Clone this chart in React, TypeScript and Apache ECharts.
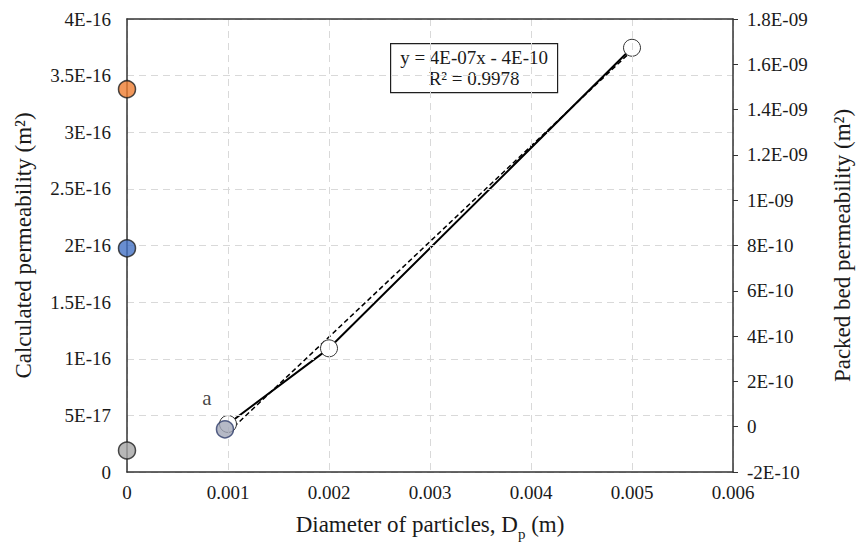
import React, { useEffect, useRef } from "react";
import * as echarts from "echarts";

// Calculated permeability (left axis), plotted at D = 0
const calcX = [0, 0, 0];
const calcY = [3.38e-16, 1.975e-16, 1.9e-17];
const calcColors = ["#ED7D31", "#4472C4", "#A5A5A5"];

// Sample "a" (left axis)
const sampleAX = [0.00097];
const sampleAY = [3.77e-17];
const sampleALabel = "a";

// Packed bed permeability (right axis)
const packedX = [0.001, 0.002, 0.005];
const packedY = [1.2e-11, 3.46e-10, 1.673e-9];

const equationLines = ["y = 4E-07x - 4E-10", "R² = 0.9978"];

const FONT = "'Liberation Serif', 'Times New Roman', serif";
const TXT = "#1a1a1a";

function sciLabel(v: number): string {
  if (Math.abs(v) < 1e-30) return "0";
  const clean = Number(v.toPrecision(3));
  const s = clean.toExponential();
  const [m, e] = s.split("e");
  const en = parseInt(e, 10);
  const sign = en < 0 ? "-" : "+";
  const ea = Math.abs(en);
  return m + "E" + sign + (ea < 10 ? "0" + ea : String(ea));
}

function fit(xs: number[], ys: number[]) {
  const n = xs.length;
  const mx = xs.reduce((a, b) => a + b, 0) / n;
  const my = ys.reduce((a, b) => a + b, 0) / n;
  let sxy = 0;
  let sxx = 0;
  for (let i = 0; i < n; i++) {
    sxy += (xs[i] - mx) * (ys[i] - my);
    sxx += (xs[i] - mx) * (xs[i] - mx);
  }
  const k = sxy / sxx;
  return { k, b: my - k * mx };
}

export default function App() {
  const ref = useRef<HTMLDivElement>(null);
  useEffect(() => {
    if (!ref.current) return;
    const chart = echarts.init(ref.current, undefined, { renderer: "svg" });
    const { k, b } = fit(packedX, packedY);
    const xMin = Math.min(...packedX);
    const xMax = Math.max(...packedX);
    const trend = [
      [xMin, k * xMin + b],
      [xMax, k * xMax + b],
    ];
    const axisLineStyle = { color: "#333333", width: 1.5 };
    const gridLineStyle = { color: "#d9d9d9", type: [7, 5], width: 1 };

    chart.setOption({
      animation: false,
      backgroundColor: "#ffffff",
      textStyle: { fontFamily: FONT },
      grid: {
        left: 127,
        right: 127,
        top: 19,
        bottom: 82,
        show: false,
        containLabel: false,
      },
      xAxis: [
        {
          type: "value",
          position: "bottom",
          min: 0,
          max: 0.006,
          interval: 0.001,
          name: "{t|Diameter of particles, D}{s|p}{t| (m)}",
          nameLocation: "middle",
          nameGap: 38,
          nameTextStyle: {
            rich: {
              t: { fontFamily: FONT, fontSize: 23, color: TXT, lineHeight: 26, verticalAlign: "bottom" },
              s: { fontFamily: FONT, fontSize: 15, color: TXT, lineHeight: 26, verticalAlign: "bottom", padding: [0, 0, -5, 0] },
            },
          },
          axisLine: { show: true, onZero: false, lineStyle: axisLineStyle },
          axisTick: { show: false },
          axisLabel: {
            margin: 11,
            fontFamily: FONT,
            fontSize: 19,
            color: TXT,
            formatter: (v: number) => String(Number(v.toPrecision(3))),
          },
          splitLine: { show: true, lineStyle: gridLineStyle },
          z: 5,
        },
        {
          type: "value",
          position: "top",
          min: 0,
          max: 0.006,
          interval: 0.001,
          axisLine: { show: true, onZero: false, lineStyle: axisLineStyle },
          axisTick: { show: false },
          axisLabel: { show: false },
          splitLine: { show: false },
          z: 5,
        },
      ],
      yAxis: [
        {
          type: "value",
          position: "left",
          min: 0,
          max: 4e-16,
          interval: 5e-17,
          name: "Calculated permeability (m²)",
          nameLocation: "middle",
          nameRotate: 90,
          nameGap: 92,
          nameTextStyle: { fontFamily: FONT, fontSize: 23, color: TXT },
          axisLine: { show: true, onZero: false, lineStyle: axisLineStyle },
          axisTick: { show: false },
          axisLabel: { margin: 16, fontFamily: FONT, fontSize: 19, color: TXT, formatter: sciLabel },
          splitLine: { show: true, lineStyle: gridLineStyle },
          z: 5,
        },
        {
          type: "value",
          position: "right",
          min: -2e-10,
          max: 1.8e-9,
          interval: 2e-10,
          name: "Packed bed permeability (m²)",
          nameLocation: "middle",
          nameRotate: 90,
          nameGap: 98,
          nameTextStyle: { fontFamily: FONT, fontSize: 23, color: TXT },
          axisLine: { show: true, onZero: false, lineStyle: axisLineStyle },
          axisTick: { show: true, inside: false, length: 5, lineStyle: { color: "#333333", width: 1 } },
          axisLabel: { margin: 14, fontFamily: FONT, fontSize: 19, color: TXT, formatter: sciLabel },
          splitLine: { show: false },
          z: 5,
        },
      ],
      series: [
        {
          name: "Linear fit",
          type: "line",
          yAxisIndex: 1,
          data: trend,
          showSymbol: false,
          symbol: "none",
          lineStyle: { color: "#000000", width: 1.5, type: [5, 3] },
          z: 3,
        },
        {
          name: "Packed bed",
          type: "line",
          yAxisIndex: 1,
          data: packedX.map((x, i) => [x, packedY[i]]),
          symbol: "circle",
          symbolSize: 17,
          lineStyle: { color: "#000000", width: 2 },
          itemStyle: { color: "#ffffff", borderColor: "#333333", borderWidth: 1 },
          z: 4,
        },
        {
          name: "Calculated",
          type: "scatter",
          yAxisIndex: 0,
          symbolSize: 17,
          data: calcX.map((x, i) => ({
            value: [x, calcY[i]],
            itemStyle: { color: calcColors[i], borderColor: "#1f1f1f", borderWidth: 1.5 },
          })),
          z: 6,
        },
        {
          name: "Sample a",
          type: "scatter",
          yAxisIndex: 0,
          symbolSize: 17,
          data: sampleAX.map((x, i) => [x, sampleAY[i]]),
          itemStyle: { color: "#a3a7b8", borderColor: "#2f3d6b", borderWidth: 1.5 },
          label: {
            show: true,
            position: "inside",
            offset: [-18, -31],
            formatter: () => sampleALabel,
            fontFamily: FONT,
            fontSize: 21,
            color: "#111111",
            textBorderWidth: 0,
          },
          z: 7,
        },
      ],
      graphic: [
        {
          type: "group",
          left: 390,
          top: 43,
          children: [
            {
              type: "rect",
              shape: { x: 0, y: 0, width: 167, height: 49 },
              style: { fill: "#ffffff", stroke: "#1f1f1f", lineWidth: 1.2 },
            },
            {
              type: "text",
              x: 83.5,
              y: 24.5,
              style: {
                text: equationLines.join("\n"),
                fontFamily: FONT,
                fontSize: 19,
                lineHeight: 21,
                fill: TXT,
                align: "center",
                verticalAlign: "middle",
              },
            },
          ],
        },
      ],
    });
    return () => chart.dispose();
  }, []);
  return (
    <div
      ref={ref}
      style={{ position: "fixed", left: 0, top: 0, width: 862, height: 554 }}
    />
  );
}
